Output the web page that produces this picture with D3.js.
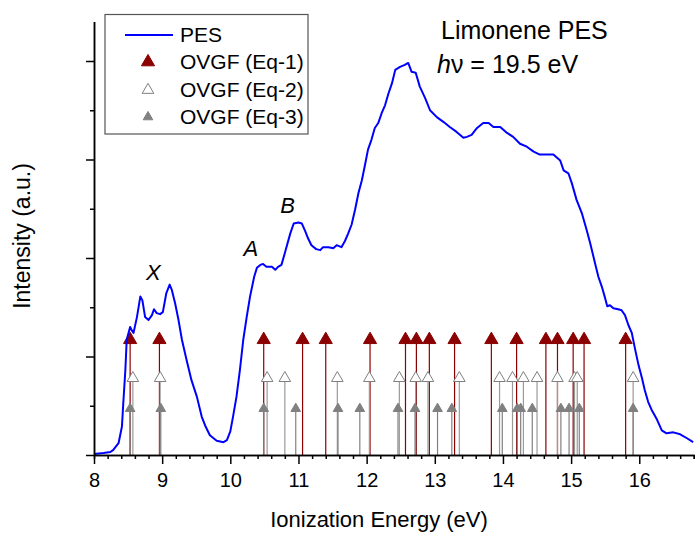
<!DOCTYPE html>
<html>
<head>
<meta charset="utf-8">
<script src="https://cdn.jsdelivr.net/npm/d3@7"></script>
<style>
  body { margin: 0; background: #fff; }
  svg { font-family: "Liberation Sans", Arial, Helvetica, sans-serif; }
  .axis path, .axis line { stroke: #000; stroke-width: 1.5; }
  .axis text { fill: #000; }
</style>
</head>
<body>
<svg id="chart" width="695" height="533"></svg>
<script>
// PES trace
var pesEnergy = [8.00, 8.14, 8.24, 8.28, 8.36, 8.41, 8.43, 8.46, 8.48, 8.53, 8.55, 8.58, 8.63, 8.68, 8.71, 8.75,
  8.80, 8.85, 8.88, 8.92, 8.97, 9.01, 9.06, 9.11, 9.14, 9.19, 9.24, 9.29, 9.36, 9.43, 9.51, 9.58, 9.63, 9.70,
  9.80, 9.90, 9.95, 10.00, 10.04, 10.09, 10.14, 10.19, 10.24, 10.29, 10.35, 10.39, 10.44, 10.48, 10.53, 10.61,
  10.66, 10.70, 10.75, 10.80, 10.88, 10.93, 11.00, 11.05, 11.10, 11.14, 11.19, 11.26, 11.32, 11.36, 11.44,
  11.51, 11.56, 11.63, 11.68, 11.73, 11.78, 11.83, 11.88, 11.93, 11.98, 12.02, 12.07, 12.12, 12.17, 12.22,
  12.27, 12.32, 12.37, 12.42, 12.49, 12.56, 12.61, 12.66, 12.72, 12.78, 12.86, 12.93, 13.03, 13.13, 13.22,
  13.32, 13.42, 13.47, 13.54, 13.62, 13.71, 13.79, 13.86, 13.96, 14.06, 14.15, 14.25, 14.35, 14.45, 14.54,
  14.64, 14.74, 14.84, 14.89, 14.96, 15.01, 15.08, 15.16, 15.23, 15.28, 15.35, 15.40, 15.45, 15.50, 15.53,
  15.57, 15.62, 15.69, 15.74, 15.79, 15.84, 15.89, 15.94, 15.99, 16.04, 16.08, 16.13, 16.18, 16.26, 16.33,
  16.40, 16.50, 16.60, 16.70, 16.79];
var pesIntensity = [0.01, 0.02, 0.03, 0.05, 0.12, 0.29, 0.53, 0.86, 1.17, 1.30, 1.27, 1.24, 1.40, 1.61, 1.57, 1.40,
  1.37, 1.42, 1.48, 1.44, 1.43, 1.45, 1.64, 1.73, 1.68, 1.54, 1.37, 1.17, 0.96, 0.76, 0.59, 0.39, 0.30, 0.20,
  0.145, 0.13, 0.15, 0.24, 0.39, 0.59, 0.86, 1.17, 1.40, 1.61, 1.81, 1.90, 1.93, 1.94, 1.91, 1.91,
  1.88, 1.91, 1.93, 2.05, 2.25, 2.35, 2.36, 2.35, 2.27, 2.20, 2.13, 2.09, 2.08, 2.11, 2.11,
  2.10, 2.13, 2.11, 2.17, 2.25, 2.34, 2.49, 2.66, 2.79, 2.96, 3.10, 3.20, 3.32, 3.37, 3.47,
  3.55, 3.67, 3.77, 3.91, 3.94, 3.96, 3.98, 3.89, 3.88, 3.74, 3.62, 3.50, 3.43, 3.38, 3.33,
  3.28, 3.22, 3.23, 3.25, 3.32, 3.37, 3.37, 3.33, 3.33, 3.27, 3.23, 3.16, 3.13, 3.08, 3.05,
  3.05, 3.05, 2.99, 2.89, 2.86, 2.76, 2.59, 2.45, 2.28, 2.15, 1.95, 1.81, 1.71, 1.59, 1.51,
  1.52, 1.49, 1.48, 1.47, 1.42, 1.32, 1.24, 1.07, 0.91, 0.78, 0.66, 0.54, 0.46, 0.36, 0.25,
  0.22, 0.23, 0.21, 0.17, 0.13];

// OVGF stick energies (eV)
var eq1Energy = [8.53, 8.96, 10.49, 11.06, 11.40, 12.05, 12.57, 12.73, 12.92, 13.29, 13.83, 14.20, 14.63,
  14.80, 15.03, 15.19, 15.80];
var eq2Energy = [8.57, 8.97, 10.54, 10.80, 11.57, 12.04, 12.48, 12.72, 12.90, 13.36, 13.95, 14.14, 14.30,
  14.50, 14.80, 15.05, 15.09, 15.91];
var eq3Energy = [8.53, 8.98, 10.49, 10.96, 11.58, 11.90, 12.46, 12.71, 13.04, 13.25, 13.99, 14.21, 14.26,
  14.43, 14.85, 14.97, 15.12, 15.91];
var eq1Height = 1.17;
var eq2Height = 0.78;
var eq3Height = 0.47;

var xMajorTicks = [8, 9, 10, 11, 12, 13, 14, 15, 16];
var yMajorTicks = [0, 1, 2, 3, 4];
var yMinorTicks = [0.5, 1.5, 2.5, 3.5];

var peakLabels = ["X", "A", "B"];
var peakLabelEnergy = [8.87, 10.30, 10.84];
var peakLabelIntensity = [1.78, 2.02, 2.46];

var legendLabels = ["PES", "OVGF (Eq-1)", "OVGF (Eq-2)", "OVGF (Eq-3)"];

var svg = d3.select("#chart");

var x = d3.scaleLinear().domain([8, 16.8]).range([94, 693.8]);
var y = d3.scaleLinear().domain([0, 4.4]).range([455, 21.6]);

// sticks: each series has its own look
var series = [
  { energy: eq1Energy, h: eq1Height, line: "#8b0000", fill: "#8b0000", stroke: "#8b0000", size: 75 },
  { energy: eq2Energy, h: eq2Height, line: "#9a9a9a", fill: "#fff", stroke: "#808080", size: 58 },
  { energy: eq3Energy, h: eq3Height, line: "#808080", fill: "#808080", stroke: "#808080", size: 40 }
];

var sticks = svg.append("g").attr("class", "sticks");

series.forEach(function (s) {
  sticks.selectAll(null)
    .data(s.energy)
    .enter().append("line")
    .attr("x1", function (d) { return x(d); })
    .attr("x2", function (d) { return x(d); })
    .attr("y1", y(0))
    .attr("y2", y(s.h))
    .attr("stroke", s.line)
    .attr("stroke-width", 1.2);
});

series.forEach(function (s) {
  sticks.selectAll(null)
    .data(s.energy)
    .enter().append("path")
    .attr("d", d3.symbol(d3.symbolTriangle, s.size))
    .attr("transform", function (d) { return "translate(" + x(d) + "," + y(s.h) + ")"; })
    .attr("fill", s.fill)
    .attr("stroke", s.stroke)
    .attr("stroke-width", 1);
});

// PES curve
var pes = pesEnergy.map(function (e, i) { return [e, pesIntensity[i]]; });
var line = d3.line()
  .x(function (d) { return x(d[0]); })
  .y(function (d) { return y(d[1]); });

svg.append("path")
  .datum(pes)
  .attr("d", line)
  .attr("fill", "none")
  .attr("stroke", "#0000ff")
  .attr("stroke-width", 2)
  .attr("stroke-linejoin", "round");

// axes
var xMinor = d3.range(8, 16.81, 0.2).filter(function (v) {
  return Math.abs(v - Math.round(v)) > 0.01;
});

svg.append("g")
  .attr("class", "axis")
  .attr("transform", "translate(0," + y(0) + ")")
  .call(d3.axisBottom(x).tickValues(xMinor).tickSize(4).tickFormat(""));

svg.append("g")
  .attr("class", "axis")
  .attr("transform", "translate(0," + y(0) + ")")
  .call(d3.axisBottom(x).tickValues(xMajorTicks).tickSize(9).tickSizeOuter(0).tickPadding(9)
    .tickFormat(d3.format("d")))
  .call(function (g) {
    g.selectAll("text").attr("font-family", null).attr("font-size", 20);
  });

svg.append("g")
  .attr("class", "axis")
  .attr("transform", "translate(" + x(8) + ",0)")
  .call(d3.axisLeft(y).tickValues(yMinorTicks).tickSize(4).tickSizeOuter(0).tickFormat(""));

svg.append("g")
  .attr("class", "axis")
  .attr("transform", "translate(" + x(8) + ",0)")
  .call(d3.axisLeft(y).tickValues(yMajorTicks).tickSize(8).tickSizeOuter(0).tickFormat(""));

svg.append("text")
  .attr("x", 379)
  .attr("y", 527)
  .attr("text-anchor", "middle")
  .attr("font-size", 22)
  .text("Ionization Energy (eV)");

svg.append("text")
  .attr("transform", "translate(30,236) rotate(-90)")
  .attr("text-anchor", "middle")
  .attr("font-size", 23)
  .text("Intensity (a.u.)");

// peak letters
svg.selectAll(".peakLabel")
  .data(peakLabels)
  .enter().append("text")
  .attr("class", "peakLabel")
  .attr("x", function (d, i) { return x(peakLabelEnergy[i]); })
  .attr("y", function (d, i) { return y(peakLabelIntensity[i]); })
  .attr("text-anchor", "middle")
  .attr("font-size", 22)
  .attr("font-style", "italic")
  .text(function (d) { return d; });

// title
svg.append("text")
  .attr("x", 441)
  .attr("y", 39)
  .attr("font-size", 25)
  .text("Limonene PES");

var hv = svg.append("text")
  .attr("x", 437)
  .attr("y", 73)
  .attr("font-size", 25);
hv.append("tspan").attr("font-style", "italic").text("h");
hv.append("tspan").text("\u03BD = 19.5 eV");

// legend
var legend = svg.append("g").attr("class", "legend");

legend.append("rect")
  .attr("x", 105)
  .attr("y", 14.5)
  .attr("width", 203)
  .attr("height", 119.5)
  .attr("fill", "#fff")
  .attr("stroke", "#555")
  .attr("stroke-width", 1.2);

var rowY = [35, 62, 90, 117];

legend.append("line")
  .attr("x1", 125).attr("x2", 173)
  .attr("y1", rowY[0]).attr("y2", rowY[0])
  .attr("stroke", "#0000ff")
  .attr("stroke-width", 2);

series.forEach(function (s, i) {
  legend.append("path")
    .attr("d", d3.symbol(d3.symbolTriangle, s.size))
    .attr("transform", "translate(148," + rowY[i + 1] + ")")
    .attr("fill", s.fill)
    .attr("stroke", s.stroke)
    .attr("stroke-width", 1);
});

legend.selectAll(".legendText")
  .data(legendLabels)
  .enter().append("text")
  .attr("class", "legendText")
  .attr("x", 180)
  .attr("y", function (d, i) { return rowY[i] + 7; })
  .attr("font-size", 21)
  .text(function (d) { return d; });
</script>
</body>
</html>
